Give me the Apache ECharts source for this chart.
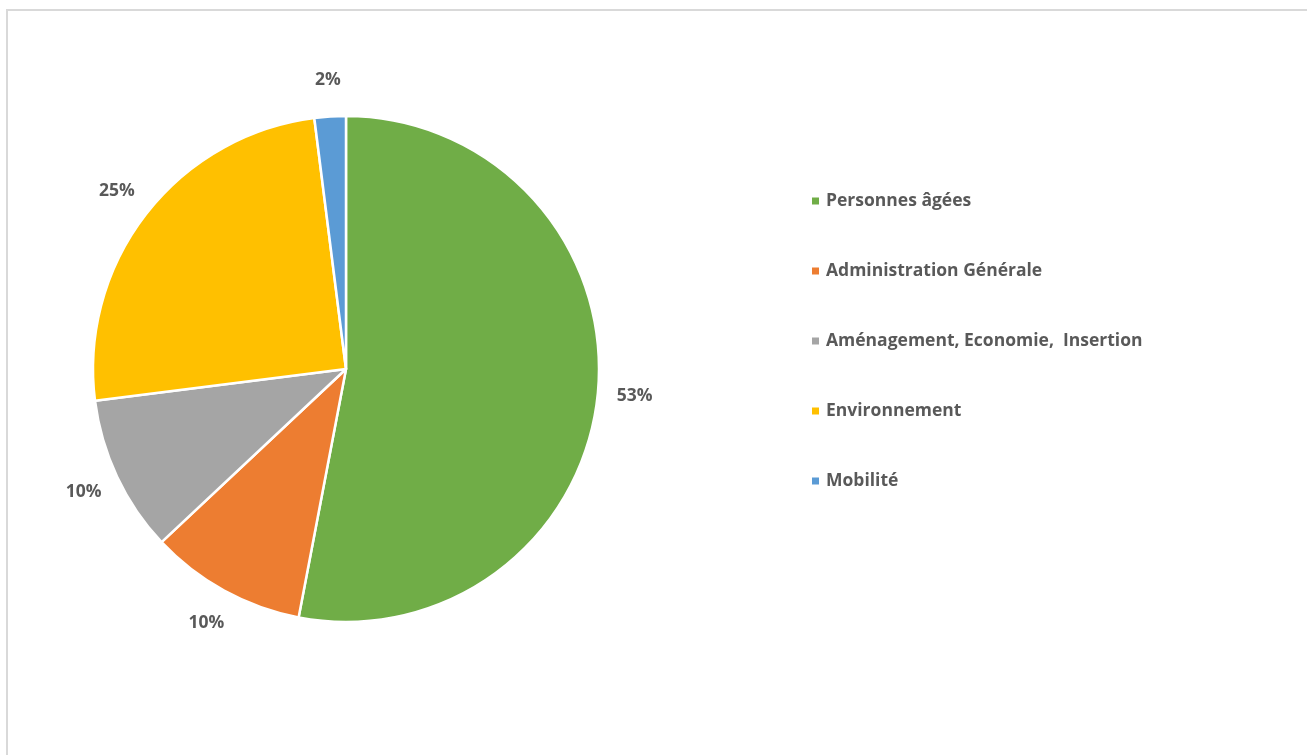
<!DOCTYPE html>
<html>
<head>
<meta charset="utf-8">
<script src="https://cdn.jsdelivr.net/npm/echarts@6/dist/echarts.min.js"></script>
<style>
  html, body { margin: 0; padding: 0; background: #fff; overflow: hidden; }
  #frame { position: absolute; left: 6px; top: 9px; width: 1320px; height: 780px;
           border: 2px solid #d9d9d9; box-sizing: border-box; }
  #chart { position: absolute; left: 0; top: 0; width: 1307px; height: 755px; }
</style>
</head>
<body>
<div id="frame"></div>
<div id="chart"></div>
<script>
// Répartition par domaine (en %)
const categories = [
  'Personnes âgées',
  'Administration Générale',
  'Aménagement, Economie,  Insertion',
  'Environnement',
  'Mobilité'
];
const values = [53, 10, 10, 25, 2];
const colors = ['#70AD47', '#ED7D31', '#A5A5A5', '#FFC000', '#5B9BD5'];

const pieData = categories.map((name, i) => ({
  name,
  value: values[i],
  itemStyle: { color: colors[i] }
}));

const labelFont = {
  fontFamily: '"Open Sans", Lato, sans-serif',
  fontWeight: 'bold',
  fontSize: 17.5,
  color: '#595959'
};

const chart = echarts.init(document.getElementById('chart'), null, { renderer: 'canvas' });

chart.setOption({
  backgroundColor: 'transparent',
  animation: false,
  legend: {
    orient: 'vertical',
    left: 810,
    top: 191,
    padding: 0,
    data: categories,
    icon: 'rect',
    itemWidth: 9,
    itemHeight: 9,
    itemGap: 50,
    textStyle: Object.assign({}, labelFont, { lineHeight: 20, padding: [0, 0, 0, 1] })
  },
  series: [
    {
      // the pie itself
      type: 'pie',
      center: [346, 369],
      radius: 253,
      startAngle: 90,
      clockwise: true,
      silent: true,
      itemStyle: { borderColor: '#ffffff', borderWidth: 2.5 },
      label: { show: false },
      labelLine: { show: false },
      data: pieData
    },
    {
      // invisible ring that carries the percentage labels just outside the pie
      type: 'pie',
      center: [346, 369],
      radius: [253, 321],
      startAngle: 90,
      clockwise: true,
      silent: true,
      itemStyle: { color: 'rgba(0,0,0,0)', borderWidth: 0 },
      label: Object.assign({
        show: true,
        position: 'inside',
        formatter: p => Math.round(p.percent) + '%'
      }, labelFont),
      labelLine: { show: false },
      data: categories.map((name, i) => ({ name: name + ' ', value: values[i] }))
    }
  ]
});
</script>
</body>
</html>
